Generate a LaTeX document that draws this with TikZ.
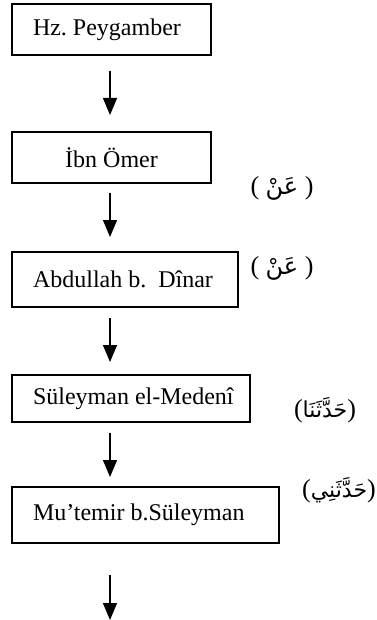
\documentclass[tikz,border=0pt]{standalone}
\usepackage{fontspec}
\setmainfont{Liberation Serif}
\newfontfamily\arabicfont[Script=Arabic]{DejaVu Sans}
\TeXXeTstate=1
\frenchspacing
\usetikzlibrary{arrows.meta}
\begin{document}
\begin{tikzpicture}[x=1pt,y=-1pt,
  box/.style={draw, line width=1.4pt, anchor=north west, outer sep=0pt,
    inner xsep=21pt, inner ysep=0pt,
    font=\fontsize{24}{28}\selectfont\frenchspacing},
  arr/.style={line width=1.3pt, -{Triangle[length=17pt,width=14pt]}},
  lab/.style={font=\fontsize{26}{30}\selectfont, inner sep=0pt}]
\useasboundingbox (0,0) rectangle (376,620);
\node[box, minimum height=51pt] (b1) at (12,4) {\makebox[157pt][l]{Hz. Peygamber}};
\node[box, minimum height=51pt] (b2) at (12,132) {\makebox[157pt][c]{İbn Ömer}};
\node[box, minimum height=55pt] (b3) at (12,252) {\makebox[184pt][l]{Abdullah b.\ \ Dînar}};
\node[box, minimum height=47pt] (b4) at (12,375) {\makebox[196pt][l]{Süleyman el-Medenî}};
\node[box, minimum height=56pt] (b5) at (12,487) {\makebox[225pt][l]{Mu’temir b.Süleyman}};
\coordinate (ax) at (110,0);
\coordinate (end) at (110,620);
\draw[arr, shorten <=16pt, shorten >=17pt] (b1.south -| ax) -- (b2.north -| ax);
\draw[arr, shorten <=10pt, shorten >=15pt] (b2.south -| ax) -- (b3.north -| ax);
\draw[arr, shorten <=11pt, shorten >=13pt] (b3.south -| ax) -- (b4.north -| ax);
\draw[arr, shorten <=11pt, shorten >=10pt] (b4.south -| ax) -- (b5.north -| ax);
\draw[arr, shorten <=32pt] (b5.south -| ax) -- (end);
\node[lab] (l1) at (282,188) {( {\arabicfont\fontsize{24}{28}\selectfont\beginR عَنْ\endR} )};
\node[lab] (l2) at (282,268) {( {\arabicfont\fontsize{24}{28}\selectfont\beginR عَنْ\endR} )};
\node[lab] (l3) at (325,410) {({\arabicfont\fontsize{22}{26}\selectfont\beginR حَدَّثَنَا\endR})};
\node[lab, anchor=east] (l4) at (376,490) {({\arabicfont\fontsize{22}{26}\selectfont\beginR حَدَّثَنِي\endR})};
\end{tikzpicture}
\end{document}
